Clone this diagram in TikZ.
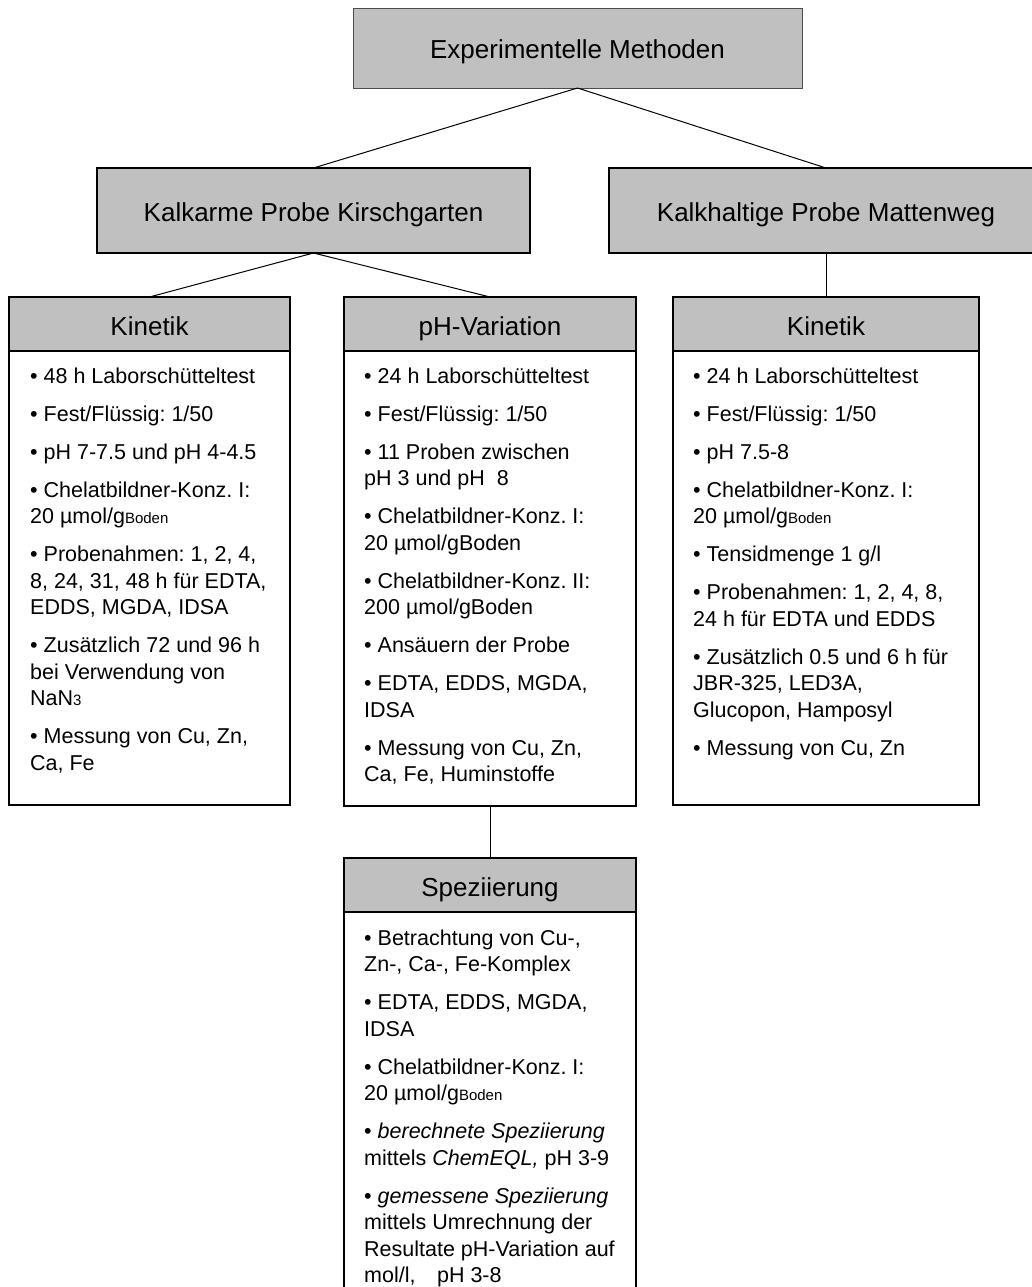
\documentclass[tikz,border=0pt]{standalone}
\usepackage{fontspec}
\setmainfont{Liberation Sans}
\usepackage{xcolor}
\usetikzlibrary{positioning}
\frenchspacing

\definecolor{headgray}{HTML}{C0C0C0}
\newcommand{\tiefer}[1]{{\fontsize{15}{15}\selectfont #1}}

\begin{document}
\begin{tikzpicture}[
x=1pt, y=-1pt,
node distance=0pt,
rootbox/.style={
draw=black!70,
line width=0.6pt,
fill=headgray,
inner sep=0pt,
outer sep=0pt,
text height=22pt,
text depth=0pt,
font=\fontsize{26}{30}\selectfont
},
head/.style={
draw,
line width=1.2pt,
fill=headgray,
minimum height=54pt,
inner sep=0pt,
outer sep=0pt,
text height=22pt,
text depth=0pt,
font=\fontsize{26}{30}\selectfont
},
body/.style={
draw,
line width=1.2pt,
fill=white,
inner sep=0pt,
outer sep=0pt
},
items/.style={
anchor=north west,
inner sep=0pt,
align=left,
font=\fontsize{21.5}{26.5}\selectfont
},
link/.style={line width=1pt}
]

\useasboundingbox (0,0) rectangle (1031,1287);

\node[rootbox, minimum width=449pt, minimum height=80pt] (methoden) at (577.5,48) {Experimentelle Methoden};
\node[head, minimum width=433pt, minimum height=85pt] (kirschgarten) at (313.5,210.5) {Kalkarme Probe Kirschgarten};
\node[head, minimum width=434pt, minimum height=85pt] (mattenweg) at (826,210.5) {Kalkhaltige Probe Mattenweg};

\node[head, minimum width=281pt] (kinetikA) at (149.5,324) {Kinetik};
\node[body, minimum width=281pt, minimum height=454pt, below=of kinetikA] (kinetikAbox) {};
\node[head, minimum width=292pt] (phvar) at (490,324) {pH-Variation};
\node[body, minimum width=292pt, minimum height=455pt, below=of phvar] (phvarbox) {};
\node[head, minimum width=306pt] (kinetikB) at (826,324) {Kinetik};
\node[body, minimum width=306pt, minimum height=454pt, below=of kinetikB] (kinetikBbox) {};
\node[head, minimum width=292pt] (spez) at (490,885) {Speziierung};
\node[body, minimum width=292pt, minimum height=390pt, below=of spez] (spezbox) {};

\node[items] (kinetikAlist) at ([xshift=21pt]kinetikAbox.north west) {\rule{0pt}{32pt}• 48 h Laborschütteltest\\[11.5pt]
• Fest/Flüssig: 1/50\\[11.5pt]
• pH 7-7.5 und pH 4-4.5\\[11.5pt]
• Chelatbildner-Konz. I:\\
20 µmol/g\tiefer{Boden}\\[11.5pt]
• Probenahmen: 1, 2, 4,\\
8, 24, 31, 48 h für EDTA,\\
EDDS, MGDA, IDSA\\[11.5pt]
• Zusätzlich 72 und 96 h\\
bei Verwendung von\\
NaN\tiefer{3}\\[11.5pt]
• Messung von Cu, Zn,\\
Ca, Fe};

\node[items] (phvarlist) at ([xshift=20pt]phvarbox.north west) {\rule{0pt}{32pt}• 24 h Laborschütteltest\\[11.5pt]
• Fest/Flüssig: 1/50\\[11.5pt]
• 11 Proben zwischen\\
pH 3 und pH\ \ 8\\[11.5pt]
• Chelatbildner-Konz. I:\\
20 µmol/gBoden\\[11.5pt]
• Chelatbildner-Konz. II:\\
200 µmol/gBoden\\[11.5pt]
• Ansäuern der Probe\\[11.5pt]
• EDTA, EDDS, MGDA,\\
IDSA\\[11.5pt]
• Messung von Cu, Zn,\\
Ca, Fe, Huminstoffe};

\node[items] (kinetikBlist) at ([xshift=20pt]kinetikBbox.north west) {\rule{0pt}{32pt}• 24 h Laborschütteltest\\[11.5pt]
• Fest/Flüssig: 1/50\\[11.5pt]
• pH 7.5-8\\[11.5pt]
• Chelatbildner-Konz. I:\\
20 µmol/g\tiefer{Boden}\\[11.5pt]
• Tensidmenge 1 g/l\\[11.5pt]
• Probenahmen: 1, 2, 4, 8,\\
24 h für EDTA und EDDS\\[11.5pt]
• Zusätzlich 0.5 und 6 h für\\
JBR-325, LED3A,\\
Glucopon, Hamposyl\\[11.5pt]
• Messung von Cu, Zn};

\node[items] (spezlist) at ([xshift=20pt]spezbox.north west) {\rule{0pt}{33pt}• Betrachtung von Cu-,\\
Zn-, Ca-, Fe-Komplex\\[11.5pt]
• EDTA, EDDS, MGDA,\\
IDSA\\[11.5pt]
• Chelatbildner-Konz. I:\\
20 µmol/g\tiefer{Boden}\\[11.5pt]
• \textit{berechnete Speziierung}\\
mittels \textit{ChemEQL,} pH 3-9\\[11.5pt]
• \textit{gemessene Speziierung}\\
mittels Umrechnung der\\
Resultate pH-Variation auf\\
mol/l,\quad pH 3-8};

\draw[link] (methoden.south) -- (kirschgarten.north);
\draw[link] (methoden.south) -- (mattenweg.north);
\draw[link] (kirschgarten.south) -- (kinetikA.north);
\draw[link] (kirschgarten.south) -- (phvar.north);
\draw[link] (mattenweg.south) -- (kinetikB.north);
\draw[link] (phvarbox.south) -- (spez.north);

\end{tikzpicture}
\end{document}
